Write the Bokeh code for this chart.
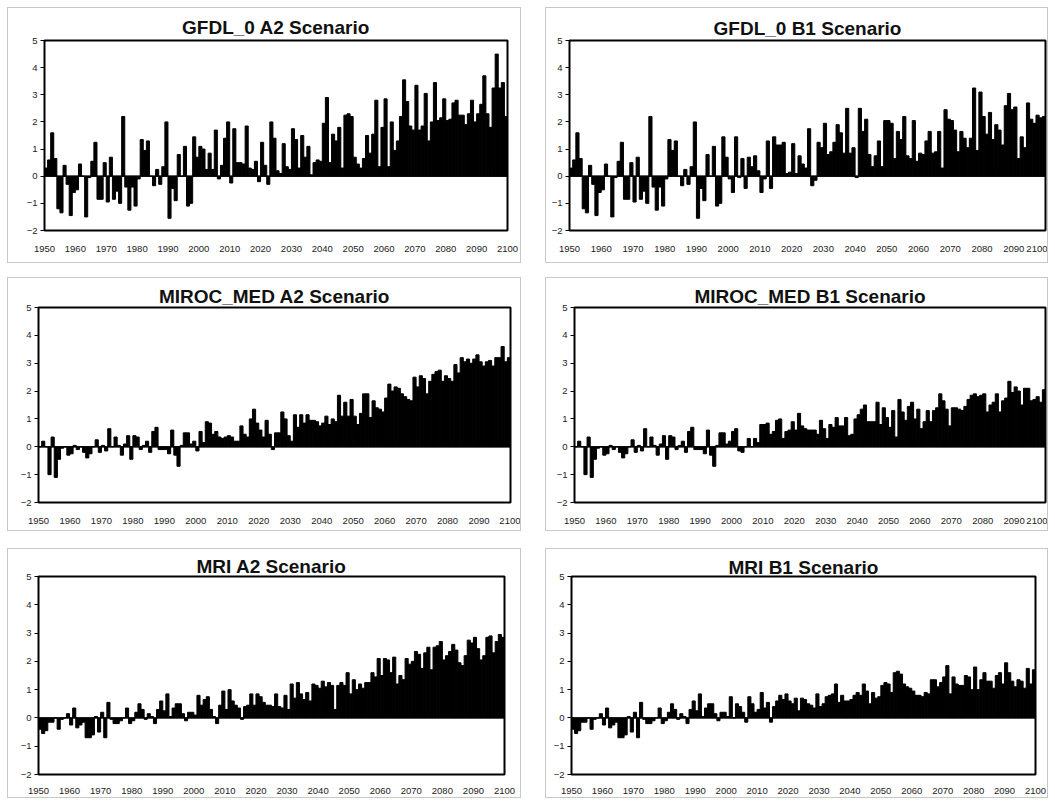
import numpy as np
from bokeh.plotting import figure
from bokeh.models import FixedTicker, Span, Range1d, ColumnDataSource, Spacer
from bokeh.layouts import column, row
from bokeh.embed import file_html
from bokeh.resources import INLINE

FIRST_YEAR = 1950
y_ticks = [-2, -1, 0, 1, 2, 3, 4, 5]
x_ticks = list(range(1950, 2101, 10))

titles = ["GFDL_0 A2 Scenario", "GFDL_0 B1 Scenario",
          "MIROC_MED A2 Scenario", "MIROC_MED B1 Scenario",
          "MRI A2 Scenario", "MRI B1 Scenario"]

gfdl_a2 = [
    0.3, 0.6, 1.6, 0.65, -1.2, -1.35, 0.4, -0.3, -1.45, -0.6,
    -0.5, 0.45, 0.0, -1.5, -0.05, 0.55, 1.25, -0.85, -0.85, 0.5,
    -0.95, 0.7, -0.85, -0.55, -1.0, 2.2, -0.4, -1.25, -0.4, -1.1,
    -0.1, 1.35, 0.95, 1.3, 0.0, -0.35, 0.25, -0.3, 0.35, 2.0,
    -1.55, -0.45, -0.9, 0.8, 0.0, 1.1, -1.1, -1.0, 1.45, 0.7,
    1.1, 1.0, 0.25, 0.85, 0.25, 1.7, -0.1, 0.4, 1.4, 2.0,
    -0.25, 1.75, 0.5, 0.5, 0.45, 1.85, 0.3, 0.25, 0.55, -0.2,
    1.25, 0.4, -0.3, 2.0, 1.4, 0.2, 0.1, 1.2, 0.35, 0.25,
    1.75, 1.35, 0.3, 1.5, 0.7, 1.1, 0.05, 0.5, 0.6, 0.55,
    1.95, 2.9, 0.5, 1.55, 1.3, 1.8, 0.3, 2.25, 2.3, 2.2,
    0.7, 0.45, 0.3, 0.65, 1.5, 0.85, 1.55, 2.8, 0.35, 1.8,
    2.85, 0.35, 2.0, 0.95, 1.3, 2.2, 3.55, 2.75, 1.85, 1.7,
    3.35, 1.7, 1.85, 3.05, 1.3, 2.0, 3.45, 2.05, 2.15, 2.85,
    2.05, 2.1, 2.7, 2.8, 2.25, 2.25, 1.9, 2.3, 2.8, 2.0,
    2.3, 2.65, 3.7, 2.3, 1.8, 3.25, 4.5, 3.25, 3.45, 2.2,
]

gfdl_b1 = [
    0.3, 0.6, 1.6, 0.65, -1.2, -1.35, 0.4, -0.3, -1.45, -0.6,
    -0.5, 0.45, 0.0, -1.5, -0.05, 0.55, 1.25, -0.85, -0.85, 0.5,
    -0.95, 0.7, -0.85, -0.55, -1.0, 2.2, -0.4, -1.25, -0.4, -1.1,
    -0.1, 1.35, 0.95, 1.3, 0.0, -0.35, 0.25, -0.3, 0.35, 2.0,
    -1.55, -0.45, -0.9, 0.8, 0.0, 1.1, -1.1, -1.0, 1.45, 0.7,
    -0.1, -0.6, 1.45, -0.05, 0.65, -0.45, 0.7, 0.35, 0.75, 0.2,
    -0.6, -0.1, 1.3, -0.45, 1.45, 1.15, 1.15, 1.25, 0.1, 0.15,
    1.2, 0.1, 0.75, 0.45, 0.3, 1.75, -0.35, -0.15, 1.25, 1.05,
    1.95, 0.8, 0.9, 1.25, 1.9, 1.6, 0.85, 2.5, 0.85, 1.05,
    -0.05, 2.5, 1.65, 2.1, 0.8, 0.35, 0.75, 1.3, 0.35, 2.05,
    2.05, 1.95, 0.65, 1.65, 1.35, 2.2, 0.75, 0.65, 2.05, 0.55,
    0.85, 0.8, 1.3, 1.65, 0.85, 0.9, 1.65, 0.3, 2.45, 2.1,
    2.05, 1.7, 0.9, 1.65, 1.4, 1.05, 1.4, 3.25, 0.95, 3.1,
    2.2, 1.55, 2.35, 1.35, 1.9, 1.7, 1.15, 2.6, 3.05, 2.45,
    2.55, 0.65, 1.45, 1.05, 2.7, 2.1, 1.95, 2.25, 2.15, 2.2,
]

miroc_a2 = [
    0.0, 0.2, 0.0, -1.0, 0.35, -1.1, -0.45, -0.05, 0.0, -0.3,
    -0.25, 0.05, -0.1, 0.0, -0.2, -0.4, -0.25, 0.0, 0.25, -0.2,
    0.05, -0.15, 0.65, 0.0, 0.35, 0.05, -0.3, 0.1, 0.4, -0.45,
    0.4, 0.35, -0.1, 0.05, 0.2, -0.2, 0.55, 0.7, -0.1, -0.1,
    -0.1, -0.25, 0.6, -0.3, -0.7, 0.05, 0.5, 0.5, 0.1, 0.2,
    -0.15, 0.55, 0.15, 0.9, 0.85, 0.45, 0.55, 0.35, 0.3, 0.35,
    0.4, 0.35, 0.2, 0.2, 0.75, 0.45, 0.35, 1.0, 1.35, 0.85,
    0.6, 0.35, 0.95, 0.45, -0.1, 0.5, 0.5, 1.25, 1.0, 0.4,
    0.2, 1.15, 0.7, 1.15, 0.85, 1.15, 0.95, 0.95, 0.9, 0.75,
    0.85, 1.1, 0.8, 1.0, 0.9, 1.85, 1.1, 1.6, 1.1, 1.7,
    1.1, 0.8, 1.2, 1.9, 1.9, 1.05, 1.65, 1.4, 1.35, 1.25,
    1.75, 2.25, 2.0, 2.15, 2.1, 1.9, 1.8, 1.7, 1.65, 2.5,
    2.15, 2.55, 2.45, 1.9, 2.35, 2.6, 2.7, 2.75, 2.35, 2.55,
    2.45, 2.35, 2.95, 2.65, 3.2, 3.05, 3.15, 3.0, 3.15, 3.3,
    3.05, 2.9, 3.05, 3.1, 2.9, 3.2, 3.2, 3.6, 3.05, 3.2,
]

miroc_b1 = [
    0.0, 0.2, 0.0, -1.0, 0.35, -1.1, -0.45, -0.05, 0.0, -0.3,
    -0.25, 0.05, -0.1, 0.0, -0.2, -0.4, -0.25, 0.0, 0.25, -0.2,
    0.05, -0.15, 0.65, 0.0, 0.35, 0.05, -0.3, 0.1, 0.4, -0.45,
    0.4, 0.35, -0.1, 0.05, 0.2, -0.2, 0.55, 0.7, -0.1, -0.1,
    -0.1, -0.25, 0.6, -0.3, -0.7, 0.05, 0.5, 0.5, 0.1, 0.2,
    0.55, 0.65, -0.15, -0.2, 0.0, 0.3, 0.0, 0.3, 0.15, 0.8,
    0.8, 0.85, 0.45, 0.55, 0.95, 1.0, 0.3, 0.55, 0.6, 0.9,
    0.6, 1.2, 0.75, 0.65, 0.6, 0.6, 0.6, 0.45, 0.95, 0.65,
    0.3, 0.8, 0.7, 1.05, 0.75, 0.75, 1.05, 0.4, 0.45, 1.0,
    1.15, 1.35, 1.5, 0.9, 0.9, 0.9, 1.6, 0.8, 1.4, 1.05,
    0.7, 1.3, 0.35, 1.7, 1.25, 0.95, 1.45, 1.6, 1.0, 1.35,
    0.65, 0.9, 1.3, 0.9, 1.3, 1.4, 1.9, 1.65, 1.35, 0.75,
    1.4, 1.4, 1.35, 1.3, 1.45, 1.7, 1.85, 1.9, 1.8, 1.85,
    1.9, 1.25, 1.5, 1.6, 1.9, 1.25, 1.65, 1.75, 2.35, 1.95,
    2.15, 2.0, 1.5, 2.1, 2.1, 1.65, 1.7, 1.8, 1.6, 2.05,
]

mri_a2 = [
    -0.4, -0.55, -0.45, -0.15, -0.15, 0.0, -0.4, -0.05, 0.0, 0.15,
    -0.25, 0.35, -0.35, -0.25, -0.15, -0.7, -0.7, -0.6, 0.05, -0.5,
    0.2, -0.7, 0.55, -0.05, -0.2, -0.2, -0.1, 0.0, 0.35, -0.2,
    -0.1, 0.2, 0.5, 0.3, -0.05, 0.15, 0.05, -0.2, 0.3, 0.6,
    0.25, 0.85, 0.05, 0.35, 0.5, 0.5, 0.15, -0.1, 0.2, 0.2,
    0.1, 0.8, 0.45, 0.65, 0.75, 0.3, 0.05, -0.2, 0.45, 0.95,
    0.3, 1.0, 0.6, 0.45, 0.35, -0.05, 0.4, 0.45, 0.85, 0.45,
    0.85, 0.75, 0.55, 0.45, 0.45, 0.4, 0.85, 0.4, 0.35, 0.8,
    0.3, 1.2, 0.7, 1.25, 0.85, 0.65, 0.9, 0.6, 1.2, 1.15,
    1.05, 1.3, 1.1, 1.25, 1.15, 0.3, 1.15, 1.25, 1.15, 1.6,
    0.85, 1.35, 1.0, 1.2, 1.05, 1.25, 1.25, 1.6, 1.45, 2.1,
    1.5, 2.1, 2.05, 1.6, 2.15, 1.2, 1.5, 1.35, 2.1, 1.9,
    2.0, 2.35, 2.25, 1.75, 2.3, 2.5, 1.7, 2.5, 2.55, 2.7,
    2.05, 2.2, 2.35, 2.6, 2.4, 1.95, 1.85, 2.2, 2.75, 2.65,
    2.85, 2.45, 2.05, 2.2, 2.85, 2.9, 2.3, 2.7, 2.95, 2.85,
]

mri_b1 = [
    -0.4, -0.55, -0.45, -0.15, -0.15, 0.0, -0.4, -0.05, 0.0, 0.15,
    -0.25, 0.35, -0.35, -0.25, -0.15, -0.7, -0.7, -0.6, 0.05, -0.5,
    0.2, -0.7, 0.55, -0.05, -0.2, -0.2, -0.1, 0.0, 0.35, -0.2,
    -0.1, 0.2, 0.5, 0.3, -0.05, 0.15, 0.05, -0.2, 0.3, 0.6,
    0.25, 0.85, 0.05, 0.35, 0.5, 0.5, 0.15, -0.1, 0.2, 0.2,
    0.05, 0.75, 0.0, 0.5, 0.4, 0.2, -0.15, 0.75, 0.5, 0.2,
    0.3, 0.9, 0.35, 0.55, -0.15, 0.4, 0.6, 0.8, 0.65, 0.85,
    0.6, 0.5, 0.7, 0.25, 0.7, 0.65, 0.5, 0.45, 0.35, 0.85,
    0.4, 0.5, 0.75, 0.8, 0.85, 1.2, 0.55, 0.8, 0.6, 0.6,
    0.65, 0.8, 0.9, 0.8, 1.2, 0.95, 0.5, 0.9, 0.7, 0.75,
    1.15, 1.25, 1.2, 0.9, 1.6, 1.65, 1.55, 1.2, 1.1, 1.05,
    0.95, 0.8, 0.8, 0.75, 0.9, 0.85, 1.35, 1.35, 1.1, 1.25,
    1.45, 1.85, 0.85, 1.45, 1.2, 1.15, 1.15, 1.5, 1.45, 1.0,
    1.8, 1.0, 1.35, 1.6, 1.3, 1.3, 1.05, 1.5, 1.6, 1.2,
    1.95, 1.6, 1.3, 1.1, 1.35, 1.3, 1.05, 1.75, 1.2, 1.7,
]

FONT = "Liberation Sans"


def panel(title, vals, width, height, ml, mr, mt, mb, standoff, xstand):
    p = figure(width=width, height=height, output_backend="svg",
               toolbar_location=None, title=title,
               x_range=Range1d(1950, 2100), y_range=Range1d(-2, 5),
               min_border_left=ml, min_border_right=mr,
               min_border_top=mt, min_border_bottom=mb)
    p.title.align = "center"
    p.title.text_font = FONT
    p.title.text_font_size = "19px"
    p.title.text_font_style = "bold"
    p.title.text_color = "#111111"
    p.title.standoff = standoff
    years = np.arange(len(vals)) + FIRST_YEAR + 0.5
    src = ColumnDataSource(dict(x=years, top=vals))
    p.vbar(x="x", top="top", bottom=0, width=1.0, source=src,
           fill_color="black", line_color="black", line_width=1.0)
    p.add_layout(Span(location=0, dimension="width", line_color="black",
                      line_width=1.2))
    p.xgrid.visible = False
    p.ygrid.visible = False
    p.outline_line_color = "black"
    p.outline_line_width = 2
    p.background_fill_color = "white"
    p.border_fill_color = "white"
    for ax in (p.xaxis[0], p.yaxis[0]):
        ax.axis_line_color = None
        ax.minor_tick_line_color = None
        ax.major_label_text_font = FONT
        ax.major_label_text_font_size = "9.5px"
        ax.major_label_text_color = "#222222"
    p.yaxis.ticker = FixedTicker(ticks=y_ticks)
    p.yaxis.major_tick_in = 0
    p.yaxis.major_tick_out = 4
    p.yaxis.major_label_standoff = 3
    p.xaxis.ticker = FixedTicker(ticks=x_ticks)
    p.xaxis.major_tick_line_color = None
    p.xaxis.major_tick_out = 0
    p.xaxis.major_tick_in = 0
    p.xaxis.major_label_standoff = xstand
    p.styles = {"outline": "1px solid #c8c8c8"}
    return p


series = [gfdl_a2, gfdl_b1, miroc_a2, miroc_b1, mri_a2, mri_b1]
geo = [
    (512, 254, 36, 13, 32, 29, 6, 15),
    (501, 254, 23, 2, 29, 32, 4, 15),
    (512, 252, 30, 10, 29, 26, 2, 15),
    (501, 252, 28, 2, 29, 28, 2, 15),
    (512, 248, 30, 16, 27, 23, 0, 13),
    (501, 248, 25, 12, 24, 23, -2, 13),
]
plots = [panel(t, v, *g) for t, v, g in zip(titles, series, geo)]

layout = column(
    Spacer(height=8),
    row(Spacer(width=8), plots[0], Spacer(width=26), plots[1]),
    Spacer(height=16),
    row(Spacer(width=8), plots[2], Spacer(width=26), plots[3]),
    Spacer(height=19),
    row(Spacer(width=8), plots[4], Spacer(width=26), plots[5]),
)

open("out.html", "w").write(file_html(layout, INLINE))
